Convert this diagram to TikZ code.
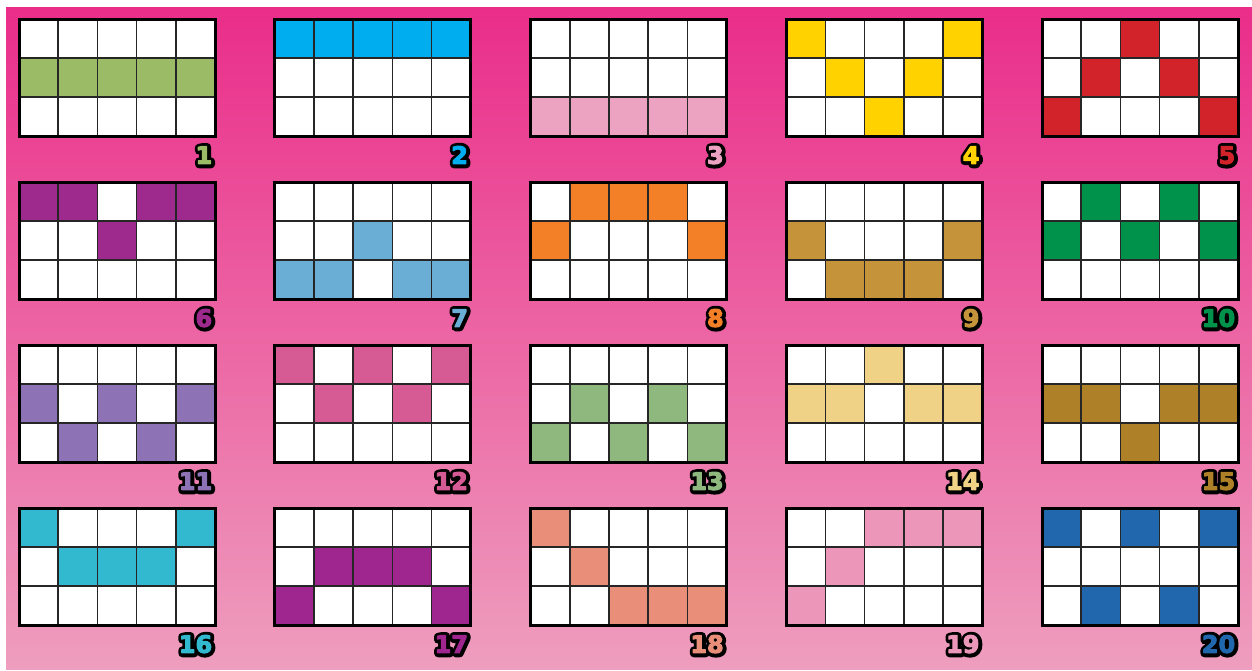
\documentclass[tikz,border=0pt]{standalone}
\usepackage{fontspec}
\setmainfont{DejaVu Sans}
\newfontfamily\numoutline{DejaVu Sans Bold}[FakeBold=32]
\newfontfamily\numfill{DejaVu Sans Bold}[FakeBold=4]
\definecolor{bgtop}{HTML}{EA2D8A}
\definecolor{bgmid}{HTML}{EC64A2}
\definecolor{bgbot}{HTML}{EE9EBE}
\definecolor{pl1}{HTML}{9BBB67}
\definecolor{pl2}{HTML}{00AEEF}
\definecolor{pl3}{HTML}{EBA3C1}
\definecolor{pl4}{HTML}{FFD200}
\definecolor{pl5}{HTML}{D2232A}
\definecolor{pl6}{HTML}{9E2A8E}
\definecolor{pl7}{HTML}{6AADD5}
\definecolor{pl8}{HTML}{F37F26}
\definecolor{pl9}{HTML}{C4933A}
\definecolor{pl10}{HTML}{00924A}
\definecolor{pl11}{HTML}{8D73B6}
\definecolor{pl12}{HTML}{D65A94}
\definecolor{pl13}{HTML}{8FB87F}
\definecolor{pl14}{HTML}{EFD285}
\definecolor{pl15}{HTML}{AE8128}
\definecolor{pl16}{HTML}{32B9D0}
\definecolor{pl17}{HTML}{A0268F}
\definecolor{pl18}{HTML}{E98E78}
\definecolor{pl19}{HTML}{EC97BA}
\definecolor{pl20}{HTML}{2167AE}
\tikzset{
  gridline/.style={line width=1.6pt, draw=black!85},
  gridborder/.style={line width=3pt, draw=black},
  numlabel/.style={anchor=base east, inner sep=0pt, line join=round, font=\fontsize{24}{24}\selectfont\numfill},
  numshadow/.style={anchor=base east, inner sep=0pt, text=black, line join=round, font=\fontsize{24}{24}\selectfont\numoutline},
}
\begin{document}
\begin{tikzpicture}[x=1pt,y=-1pt]
\useasboundingbox (0,0) rectangle (1252,670);
\fill[white] (0,0) rectangle (1252,670);
\shade[top color=bgtop, middle color=bgmid, bottom color=bgbot] (6,7) rectangle (1252,669);
\foreach \n/\cl/\a/\b/\c/\d/\e in {
  1/pl1/2/2/2/2/2, 2/pl2/1/1/1/1/1, 3/pl3/3/3/3/3/3, 4/pl4/1/2/3/2/1, 5/pl5/3/2/1/2/3,
  6/pl6/1/1/2/1/1, 7/pl7/3/3/2/3/3, 8/pl8/2/1/1/1/2, 9/pl9/2/3/3/3/2, 10/pl10/2/1/2/1/2,
  11/pl11/2/3/2/3/2, 12/pl12/1/2/1/2/1, 13/pl13/3/2/3/2/3, 14/pl14/2/2/1/2/2, 15/pl15/2/2/3/2/2,
  16/pl16/1/2/2/2/1, 17/pl17/3/2/2/2/3, 18/pl18/1/2/3/3/3, 19/pl19/3/2/1/1/1, 20/pl20/1/3/1/3/1}{
  \pgfmathsetmacro{\gx}{19+255.75*mod(\n-1,5)}
  \pgfmathsetmacro{\gy}{19+163*floor((\n-1)/5)}
  \fill[white] (\gx,\gy) rectangle ++(196,117);
  \foreach \i/\r in {0/\a,1/\b,2/\c,3/\d,4/\e}
    \fill[\cl] (\gx+39.2*\i,\gy+39*\r-39) rectangle ++(39.2,39);
  \foreach \i in {1,...,4}
    \draw[gridline] (\gx+39.2*\i,\gy) -- ++(0,117);
  \foreach \j in {1,2}
    \draw[gridline] (\gx,\gy+39*\j) -- ++(196,0);
  \draw[gridborder] (\gx,\gy) rectangle ++(196,117);
  \begin{scope}[line join=round]
    \pgfsetroundjoin
    \node[numshadow] (numbg\n) at (\gx+194.0,\gy+145.4) {\n};
    \node[numlabel,text=\cl] (num\n) at (\gx+193.4,\gy+144.8) {\n};
  \end{scope}
}
\end{tikzpicture}
\end{document}
